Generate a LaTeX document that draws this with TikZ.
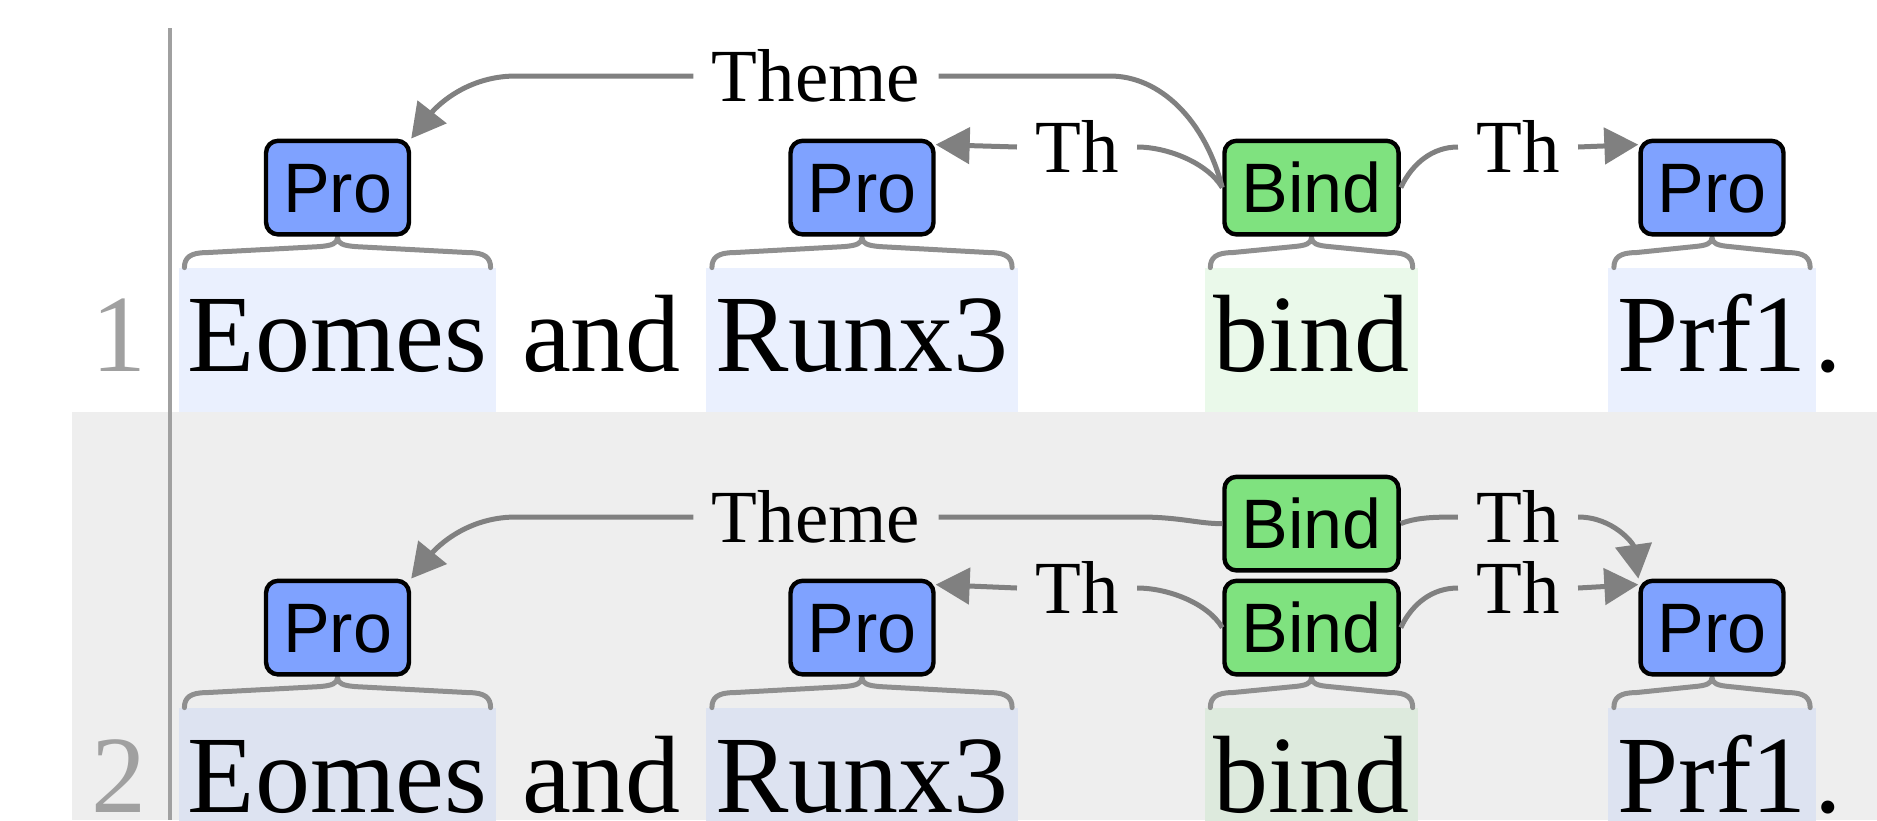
\documentclass[tikz,border=0pt]{standalone}
\usepackage{fontspec}
\setmainfont{Liberation Serif}
\newfontfamily\boxfont{Liberation Sans}
\usetikzlibrary{arrows.meta,calc}
\definecolor{probox}{HTML}{7FA2FF}
\definecolor{bindbox}{HTML}{7FE27F}
\definecolor{prospanA}{HTML}{EAF0FE}
\definecolor{bindspanA}{HTML}{EAF9EA}
\definecolor{prospanB}{HTML}{DDE3F1}
\definecolor{bindspanB}{HTML}{DDEADD}
\definecolor{rowgray}{HTML}{EEEEEE}
\definecolor{arcgray}{HTML}{808080}
\definecolor{bracegray}{HTML}{8F8F8F}
\definecolor{numgray}{HTML}{A0A0A0}
\newcommand\wordbrace[1]{\draw[bracestyle] let \p1=(#1.north west), \p2=(#1.north east), \p3=(#1.north) in
 (\x1+3pt,\y1) .. controls (\x1+3pt,\y1+5pt) and (\x1+6pt,\y1+7.5pt) .. (\x1+14pt,\y1+7.5pt)
 -- (\x3-9pt,\y1+10.5pt) .. controls (\x3-3pt,\y1+11pt) and (\x3,\y1+12pt) .. (\x3,\y1+15pt)
 .. controls (\x3,\y1+12pt) and (\x3+3pt,\y1+11pt) .. (\x3+9pt,\y1+10.5pt)
 -- (\x2-14pt,\y1+7.5pt) .. controls (\x2-6pt,\y1+7.5pt) and (\x2-3pt,\y1+5pt) .. (\x2-3pt,\y1);}
\begin{document}
\begin{tikzpicture}[x=0.5pt,y=-0.5pt,
 word/.style={font=\fontsize{55}{60}\selectfont, anchor=base, inner xsep=4.5pt, inner ysep=0pt, text height=51.5pt, text depth=20.5pt},
 wordB/.style={word, text height=52pt, text depth=6pt},
 plainword/.style={font=\fontsize{55}{60}\selectfont, anchor=base, inner sep=0pt},
 lnum/.style={plainword, anchor=base east, text=numgray},
 ent/.style={draw=black, line width=2.2pt, rounded corners=6pt, font=\boxfont\fontsize{35}{38}\selectfont, inner xsep=8.5pt, inner ysep=0pt, minimum height=46.8pt, text height=25pt, text depth=0pt},
 pro/.style={ent, fill=probox},
 bindent/.style={ent, fill=bindbox},
 lab/.style={font=\fontsize{37.5}{40}\selectfont, inner xsep=9pt, inner ysep=0pt, text height=25pt, text depth=0pt},
 arc/.style={draw=arcgray, line width=2.5pt},
 arr/.style={arc, -{Triangle[length=17pt,width=18pt]}},
 bracestyle/.style={draw=bracegray, line width=2.5pt, line cap=round},
]
\useasboundingbox (0,0) rectangle (1877,820);
% row backgrounds
\fill[rowgray] (72,412) rectangle (1877,820);
\draw[numgray, line width=1.8pt] (170,28) -- (170,820);

% ---------- row 1 ----------
\node[lnum] (N1) at (147,371) {1};
\node[word, fill=prospanA] (W1a) at (337.5,371) {Eomes};
\node[plainword] (W1b) at (601.5,371) {and};
\node[word, fill=prospanA] (W1c) at (862,371) {Runx3};
\node[word, fill=bindspanA] (W1d) at (1311.5,371) {bind};
\node[word, fill=prospanA] (W1e) at (1712,371) {Prf1};
\node[plainword, anchor=base west] (W1f) at ([xshift=-1pt]W1e.base east) {.};
\wordbrace{W1a}\wordbrace{W1c}\wordbrace{W1d}\wordbrace{W1e}
\node[pro] (P1a) at ([yshift=40pt]W1a.north) {Pro};
\node[pro] (P1c) at ([yshift=40pt]W1c.north) {Pro};
\node[bindent] (B1) at ([yshift=40pt]W1d.north) {Bind};
\node[pro] (P1e) at ([yshift=40pt]W1e.north) {Pro};
\node[lab] (T1) at (816,76) {Theme};
\node[lab] (TL1) at (1077,147) {Th};
\node[lab] (TR1) at (1518,147) {Th};
\draw[arc] (T1.east) -- (1110,76) .. controls (1160,76) and (1205,120) .. (B1.west);
\draw[arr] (T1.west) -- (516,76) .. controls (462,76) and (432,112) .. (P1a.north east);
\draw[arc] (B1.west) .. controls +(-15,-25) and +(30,0) .. (TL1.east);
\draw[arr] (TL1.west) -- ([yshift=-3pt]P1c.north east);
\draw[arc] (B1.east) .. controls +(12,-25) and +(-25,0) .. (TR1.west);
\draw[arr] (TR1.east) -- ([yshift=-3pt]P1e.north west);

% ---------- row 2 ----------
\node[lnum] (N2) at (147,812) {2};
\node[wordB, fill=prospanB] (W2a) at (337.5,812) {Eomes};
\node[plainword] (W2b) at (601.5,812) {and};
\node[wordB, fill=prospanB] (W2c) at (862,812) {Runx3};
\node[wordB, fill=bindspanB] (W2d) at (1311.5,812) {bind};
\node[wordB, fill=prospanB] (W2e) at (1712,812) {Prf1};
\node[plainword, anchor=base west] (W2f) at ([xshift=-1pt]W2e.base east) {.};
\wordbrace{W2a}\wordbrace{W2c}\wordbrace{W2d}\wordbrace{W2e}
\node[pro] (P2a) at ([yshift=40pt]W2a.north) {Pro};
\node[pro] (P2c) at ([yshift=40pt]W2c.north) {Pro};
\node[bindent] (BB) at ([yshift=40pt]W2d.north) {Bind};
\node[bindent] (BT) at ([yshift=92pt]W2d.north) {Bind};
\node[pro] (P2e) at ([yshift=40pt]W2e.north) {Pro};
\node[lab] (T2) at (816,517) {Theme};
\node[lab] (TT2) at (1518,517) {Th};
\node[lab] (TBL2) at (1077,588) {Th};
\node[lab] (TBR2) at (1518,588) {Th};
\draw[arc] (T2.east) -- (1140,517) .. controls (1180,517) and (1200,524) .. (BT.west);
\draw[arr] (T2.west) -- (516,517) .. controls (462,517) and (432,553) .. (P2a.north east);
\draw[arc] (BT.east) .. controls +(15,-6) and +(-25,0) .. (TT2.west);
\draw[arr] (TT2.east) .. controls +(35,0) and +(-5,-35) .. (P2e.north west);
\draw[arc] (BB.west) .. controls +(-15,-25) and +(30,0) .. (TBL2.east);
\draw[arr] (TBL2.west) -- ([yshift=-3pt]P2c.north east);
\draw[arc] (BB.east) .. controls +(12,-25) and +(-25,0) .. (TBR2.west);
\draw[arr] (TBR2.east) -- ([yshift=-3pt]P2e.north west);
\end{tikzpicture}
\end{document}
